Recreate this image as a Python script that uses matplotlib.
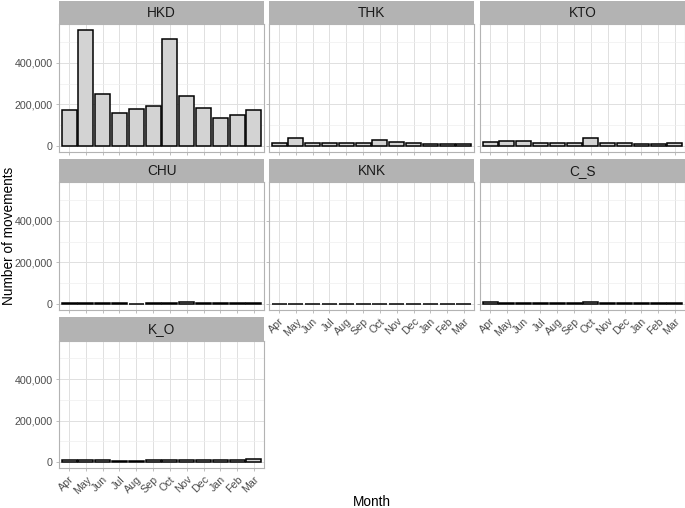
import numpy as np
import matplotlib
matplotlib.use("Agg")
import matplotlib.pyplot as plt
from matplotlib.ticker import FuncFormatter, FixedLocator

plt.rcParams['font.family'] = ['Liberation Sans', 'DejaVu Sans']

# Data
months = ['Apr', 'May', 'Jun', 'Jul', 'Aug', 'Sep', 'Oct', 'Nov', 'Dec', 'Jan', 'Feb', 'Mar']
panels = ['HKD', 'THK', 'KTO', 'CHU', 'KNK', 'C_S', 'K_O']
hkd = [173000, 558000, 250000, 157000, 180000, 194000, 512000, 240000, 183000, 137000, 148000, 175000]
thk = [16000, 40000, 16000, 14000, 13000, 16000, 32000, 21000, 13000, 10000, 10000, 11000]
kto = [18000, 27000, 25000, 14000, 13000, 16000, 37000, 16000, 14000, 10000, 11000, 16000]
chu = [5000, 5000, 8000, 5000, 3000, 8000, 7000, 9000, 5000, 5000, 4000, 7000]
knk = [1000, 1000, 1000, 1000, 1000, 1000, 1000, 1000, 1000, 1000, 1000, 1000]
c_s = [12000, 7000, 7000, 8000, 7000, 7000, 10000, 8000, 5000, 4000, 5000, 6000]
k_o = [12000, 9000, 9000, 8000, 7000, 10000, 11000, 12000, 10000, 9000, 10000, 14000]
values = [hkd, thk, kto, chu, knk, c_s, k_o]

W, H = 685, 508
fig = plt.figure(figsize=(W / 100, H / 100), dpi=100)

col_x = [59, 269, 480]
pw = 205
row_y = [(1, 24, 152), (159, 182, 310), (317, 340.5, 468)]  # strip top, panel top, panel bottom

ymax = max(max(v) for v in values)
ylo, yhi = -0.05 * ymax, 1.05 * ymax
x = np.arange(len(months))

fmt = FuncFormatter(lambda v, p: f"{int(v):,}")

for i, (name, vals) in enumerate(zip(panels, values)):
    r, c = divmod(i, 3)
    st, pt, pb = row_y[r]
    x0 = col_x[c]
    ax = fig.add_axes([x0 / W, 1 - pb / H, pw / W, (pb - pt) / H])
    sax = fig.add_axes([x0 / W, 1 - pt / H, pw / W, (pt - st) / H])

    ax.bar(x, vals, width=0.9, color='#d3d3d3', edgecolor='black', linewidth=1.1, zorder=3)
    ax.set_xlim(-0.6, len(months) - 0.4)
    ax.set_ylim(ylo, yhi)
    ax.yaxis.set_major_locator(FixedLocator([0, 200000, 400000]))
    ax.yaxis.set_minor_locator(FixedLocator([100000, 300000, 500000]))
    ax.yaxis.set_major_formatter(fmt)
    ax.set_xticks(x)
    ax.grid(True, which='major', color='#e0e0e0', linewidth=0.7, zorder=0)
    ax.grid(True, which='minor', axis='y', color='#efefef', linewidth=0.5, zorder=0)
    for s in ax.spines.values():
        s.set_color('#b3b3b3')
        s.set_linewidth(0.8)
    ax.tick_params(which='major', length=2.5, width=0.6, color='#b3b3b3',
                   labelsize=7.7, labelcolor='#4d4d4d', pad=2)
    ax.tick_params(which='minor', length=0)

    if i >= 4:
        ax.set_xticklabels(months, rotation=45, ha='right', rotation_mode='anchor')
    else:
        ax.set_xticklabels([])
    if c != 0:
        ax.set_yticklabels([])

    sax.set_facecolor('#b3b3b3')
    sax.set_xticks([])
    sax.set_yticks([])
    for s in sax.spines.values():
        s.set_visible(False)
    sax.text(0.5, 0.48, name, ha='center', va='center', fontsize=9.8,
             color='#1a1a1a', transform=sax.transAxes)

fig.text(372 / W, 1 - 502 / H, 'Month', ha='center', va='center', fontsize=9.8)
fig.text(9 / W, 1 - 236 / H, 'Number of movements', ha='center', va='center',
         rotation=90, fontsize=9.8)

fig.savefig('out.png', dpi=100, facecolor='white')
